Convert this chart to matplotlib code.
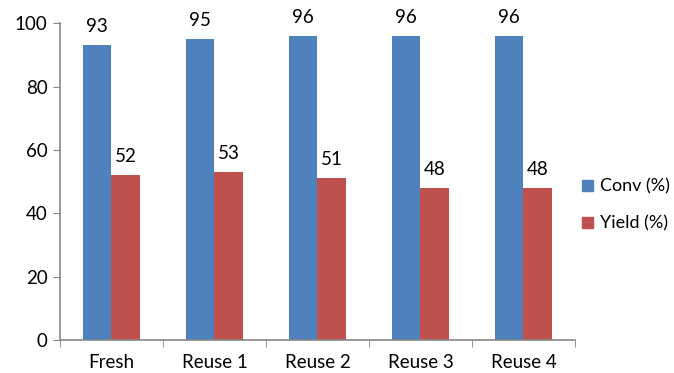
import numpy as np
import matplotlib.pyplot as plt
from matplotlib.patches import Patch

plt.rcParams['font.family'] = ['Lato', 'DejaVu Sans']

# catalyst recycling runs
runs = ['Fresh', 'Reuse 1', 'Reuse 2', 'Reuse 3', 'Reuse 4']
conv = [93, 95, 96, 96, 96]
yield_ = [52, 53, 51, 48, 48]

blue = '#4F81BD'
red = '#C0504D'
grey = '#868686'
fs = 13.5

fig = plt.figure(figsize=(6.74, 3.73), dpi=100)
ax = fig.add_axes([0.089, 0.088, 0.764, 0.85])

x = np.arange(len(runs))
w = 0.28
b1 = ax.bar(x - w / 2, conv, w, color=blue, label='Conv (%)')
b2 = ax.bar(x + w / 2, yield_, w, color=red, label='Yield (%)')

for bars, vals in ((b1, conv), (b2, yield_)):
    for b, v in zip(bars, vals):
        ax.text(b.get_x() + b.get_width() / 2, v + 3.2, str(v),
                ha='center', va='bottom', fontsize=fs)

ax.set_xlim(-0.5, len(runs) - 0.5)
ax.set_ylim(0, 100)
ax.set_yticks(range(0, 101, 20))
ax.tick_params(axis='y', labelsize=fs, length=5, color=grey, pad=4)
ax.set_xticks(x)
ax.set_xticklabels(runs, fontsize=fs)
ax.tick_params(axis='x', length=0, pad=10)
ax.set_xticks(np.arange(-0.5, len(runs)), minor=True)
ax.tick_params(axis='x', which='minor', length=5, color=grey)

for s in ('top', 'right'):
    ax.spines[s].set_visible(False)
for s in ('left', 'bottom'):
    ax.spines[s].set_color(grey)
    ax.spines[s].set_linewidth(1.2)

handles = [Patch(color=blue, label='Conv (%)'), Patch(color=red, label='Yield (%)')]
fig.legend(handles=handles, loc='center left', bbox_to_anchor=(0.864, 0.45),
           frameon=False, fontsize=13, handlelength=0.6, handleheight=0.6,
           handletextpad=0.4, labelspacing=1.15, borderpad=0, borderaxespad=0)

fig.savefig('out.png', dpi=100)
